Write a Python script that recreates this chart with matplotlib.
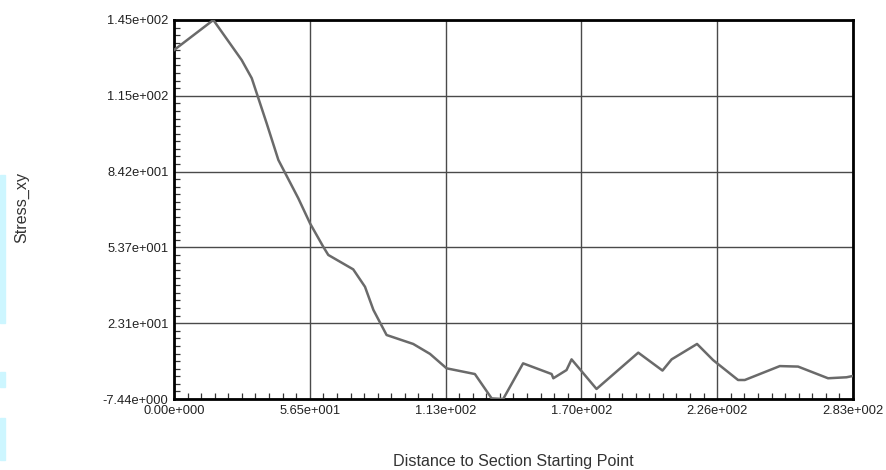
import numpy as np
import matplotlib
matplotlib.use("Agg")
import matplotlib.pyplot as plt
from matplotlib.patches import Rectangle
from matplotlib.ticker import AutoMinorLocator

# data
distance = [0.0, 16.4, 28.2, 32.4, 38.6, 43.5, 51.8, 56.7, 62.2, 64.3, 74.7,
            79.6, 83.1, 88.6, 99.7, 106.7, 113.6, 125.4, 132.4, 137.2, 145.5,
            157.4, 158.1, 163.6, 165.7, 176.1, 193.5, 203.6, 207.4, 218.0,
            224.7, 235.1, 237.9, 252.5, 260.1, 272.6, 280.3, 282.8]
stress_xy = [132.9, 145.0, 128.9, 121.6, 103.5, 88.7, 73.3, 63.2, 53.8, 50.5,
             44.7, 37.7, 28.4, 18.3, 14.7, 10.7, 4.9, 2.6, -7.2, -7.44, 6.9,
             2.6, 0.9, 4.2, 8.5, -3.4, 11.2, 4.0, 8.5, 14.7,
             8.2, 0.2, 0.2, 5.8, 5.6, 0.9, 1.3, 1.8]

x_ticks = [0.0, 56.6, 113.2, 169.8, 226.4, 283.0]
x_labels = ["0.00e+000", "5.65e+001", "1.13e+002", "1.70e+002", "2.26e+002", "2.83e+002"]
y_ticks = list(np.linspace(-7.44, 145.0, 6))
y_labels = ["-7.44e+000", "2.31e+001", "5.37e+001", "8.42e+001", "1.15e+002", "1.45e+002"]

plt.rcParams['font.family'] = ['Liberation Sans', 'DejaVu Sans']

fig = plt.figure(figsize=(8.87, 4.70), dpi=100)
ax = fig.add_axes([174 / 887, 1 - 399 / 470, (853 - 174) / 887, (399 - 20) / 470])

ax.plot(distance, stress_xy, color='#6a6a6a', lw=1.8, zorder=3)

ax.set_xlim(x_ticks[0], x_ticks[-1])
ax.set_ylim(y_ticks[0], y_ticks[-1])
ax.set_xticks(x_ticks)
ax.set_xticklabels(x_labels)
ax.set_yticks(y_ticks)
ax.set_yticklabels(y_labels)
ax.xaxis.set_minor_locator(AutoMinorLocator(10))
ax.yaxis.set_minor_locator(AutoMinorLocator(10))

ax.grid(True, which='major', color='#4a4a4a', lw=1.0)
ax.tick_params(which='major', length=0, pad=4, labelsize=9.3, colors='#222222')
ax.tick_params(which='minor', direction='in', length=4, width=0.9, color='#333333')

for s in ax.spines.values():
    s.set_linewidth(2)
    s.set_color('black')

ax.set_xlabel("Distance to Section Starting Point", fontsize=11.6, color='#333333', labelpad=27)
fig.text(22 / 887, 1 - 207 / 470, "Stress_xy", rotation=90, fontsize=11.6,
         color='#333333', ha='center', va='center')

# light cyan strips at the left edge
for top, bot in [(175, 323), (372, 387), (418, 460)]:
    fig.patches.append(Rectangle((0, 1 - bot / 470), 5 / 887, (bot - top) / 470,
                                 transform=fig.transFigure, color='#cdf6ff', zorder=0))

fig.savefig("out.png", dpi=100)
